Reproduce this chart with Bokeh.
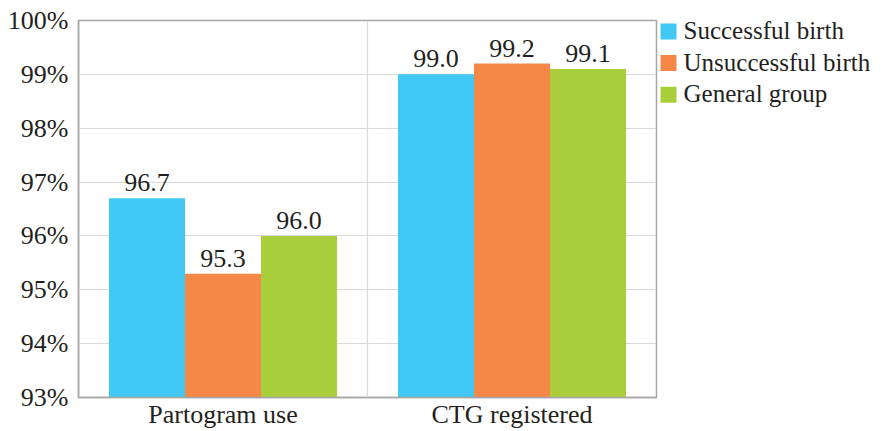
from bokeh.plotting import figure
from bokeh.layouts import row
from bokeh.models import (FactorRange, ColumnDataSource, FixedTicker, PrintfTickFormatter,
                          Span, Range1d)
from bokeh.transform import dodge
from bokeh.core.properties import value
from bokeh.embed import file_html
from bokeh.resources import INLINE

categories = ["Partogram use", "CTG registered"]
series = ["Successful birth", "Unsuccessful birth", "General group"]
successful = [96.7, 99.0]
unsuccessful = [95.3, 99.2]
general = [96.0, 99.1]
colors = ["#41C8F4", "#F68847", "#A8CF3A"]
y_ticks = [93, 94, 95, 96, 97, 98, 99, 100]

FONT = "Liberation Serif"
TEXT_COLOR = "#231F20"
TOP, BOTTOM = 20, 33
HEIGHT = 431

src = ColumnDataSource(dict(
    cat=categories,
    s0=successful, s1=unsuccessful, s2=general,
    l0=[f"{v:.1f}" for v in successful],
    l1=[f"{v:.1f}" for v in unsuccessful],
    l2=[f"{v:.1f}" for v in general],
))

p = figure(x_range=FactorRange(*categories, range_padding=0), y_range=(93, 100),
           width=658, height=HEIGHT, output_backend="svg", toolbar_location=None,
           min_border_left=78, min_border_right=2, min_border_top=TOP, min_border_bottom=BOTTOM)

p.outline_line_color = "#A6A6A6"
p.outline_line_width = 1.5
p.background_fill_color = "white"
p.border_fill_color = "white"

bar_w = 0.263
offsets = [-bar_w, 0.0, bar_w]
for i, (off, col) in enumerate(zip(offsets, colors)):
    p.vbar(x=dodge("cat", off, range=p.x_range), top=f"s{i}", bottom=93,
           width=bar_w, fill_color=col, line_color=None, source=src)
    p.text(x=dodge("cat", off, range=p.x_range), y=f"s{i}", text=f"l{i}", source=src,
           text_align="center", text_baseline="bottom", y_offset=-7,
           text_font=value(FONT), text_font_size="26px", text_color=TEXT_COLOR)

# grid
p.xgrid.grid_line_color = None
p.ygrid.grid_line_color = "#D9D9D9"
p.ygrid.grid_line_width = 1.2
p.add_layout(Span(location=1.0, dimension="height", line_color="#D9D9D9", line_width=1.2))

# axes
p.yaxis.ticker = FixedTicker(ticks=y_ticks)
p.yaxis.formatter = PrintfTickFormatter(format="%d%%")
for ax in (p.xaxis[0], p.yaxis[0]):
    ax.axis_line_color = "#A6A6A6"
    ax.axis_line_width = 1.5
    ax.major_tick_line_color = None
    ax.minor_tick_line_color = None
    ax.major_tick_out = 0
    ax.major_tick_in = 0
    ax.minor_tick_out = 0
    ax.minor_tick_in = 0
    ax.major_label_text_font = FONT
    ax.major_label_text_font_size = "26px"
    ax.major_label_text_color = TEXT_COLOR
p.yaxis.major_label_standoff = 10
p.xaxis.major_label_standoff = 2

# legend panel beside the chart; its frame lines up with the chart's frame,
# so the y range is given in pixels from the top of the page
LP_W = 227
lp = figure(width=LP_W, height=HEIGHT, output_backend="svg", toolbar_location=None,
            x_axis_type=None, y_axis_type=None, min_border_left=0, min_border_right=0,
            min_border_top=TOP, min_border_bottom=BOTTOM,
            x_range=Range1d(0, LP_W), y_range=Range1d(HEIGHT - BOTTOM, TOP))
lp.outline_line_color = None
lp.xgrid.grid_line_color = None
lp.ygrid.grid_line_color = None
lp.background_fill_color = "white"
lp.border_fill_color = "white"

row_y = [31 + 31.7 * i for i in range(len(series))]
swatch_x = 10
leg = ColumnDataSource(dict(y=row_y, label=series, color=colors))
lp.rect(x=swatch_x, y="y", width=16, height=16, width_units="screen", height_units="screen",
        fill_color="color", line_color=None, source=leg)
lp.text(x=swatch_x + 8 + 7, y="y", text="label", source=leg, text_baseline="middle",
        text_align="left", y_offset=-1,
        text_font=value(FONT), text_font_size="25px", text_color=TEXT_COLOR)

open("out.html", "w").write(file_html(row(p, lp), INLINE))
